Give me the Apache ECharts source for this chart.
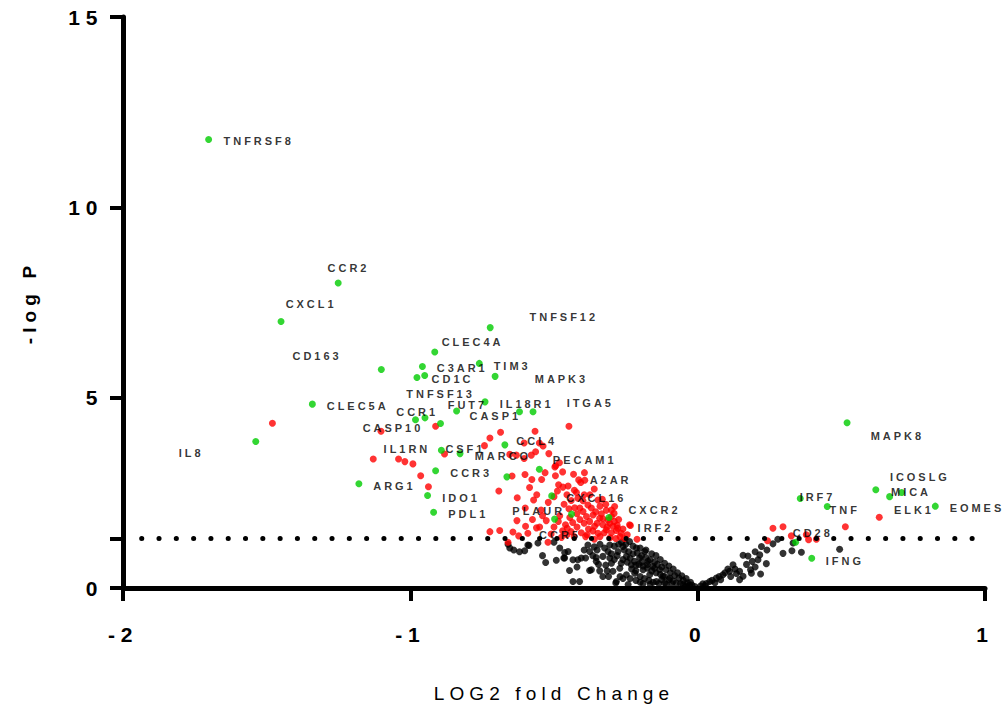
<!DOCTYPE html>
<html>
<head>
<meta charset="utf-8">
<script src="https://cdn.jsdelivr.net/npm/echarts@6/dist/echarts.min.js"></script>
<style>
  html, body { margin: 0; padding: 0; background: #fff; }
  #chart { width: 1003px; height: 708px; }
  #chart text { letter-spacing: 0.27em; }
</style>
</head>
<body>
<div id="chart"></div>
<script>
// volcano plot: x = log2 fold change, y = -log10 P
const cutoff = 1.3;
const yTickMarks = [0, 1.3, 5, 10, 15];
const yTickLabels = [0, 5, 10, 15];

// labelled / highlighted genes (green)
const greenPoints = [
  [-1.702, 11.78], [-1.251, 8.01], [-1.450, 7.00], [-1.101, 5.74], [-0.722, 6.84],
  [-0.915, 6.20], [-0.958, 5.82], [-0.977, 5.53], [-0.950, 5.58], [-0.760, 5.90],
  [-0.705, 5.56], [-0.740, 4.89], [-0.839, 4.65], [-0.620, 4.63], [-0.573, 4.63],
  [-1.341, 4.83], [-0.982, 4.42], [-0.949, 4.47], [-0.895, 4.32], [-1.538, 3.85],
  [-0.892, 3.62], [-0.827, 3.53], [-0.671, 3.76], [-0.912, 3.08], [-1.179, 2.74],
  [-0.940, 2.43], [-0.919, 1.99], [-0.664, 2.92], [-0.551, 3.12], [-0.508, 2.42],
  [-0.498, 1.81], [-0.439, 1.94], [-0.309, 1.85],
  [0.520, 4.34], [0.620, 2.58], [0.668, 2.40], [0.710, 2.51], [0.827, 2.15],
  [0.357, 2.35], [0.451, 2.14], [0.341, 1.20], [0.397, 0.78]
];

// significant, not labelled (red)
const redPoints = [
  [-1.480, 4.33], [-1.102, 4.12], [-0.912, 4.25], [-1.129, 3.39], [-1.041, 3.39],
  [-1.019, 3.32], [-0.991, 3.26], [-0.964, 2.95], [-0.937, 2.66], [-0.881, 3.52],
  [-0.448, 4.25], [-0.566, 4.12], [-0.686, 4.09], [-0.723, 3.94], [-0.742, 3.74],
  [-0.604, 3.81], [-0.551, 3.81], [-0.538, 3.73], [-0.654, 3.51], [-0.631, 3.49],
  [-0.604, 3.40], [-0.579, 3.49], [-0.518, 3.53], [-0.481, 3.29], [-0.497, 3.18],
  [-0.564, 3.58], [-0.494, 3.21], [-0.646, 2.94], [-0.601, 2.98], [-0.577, 2.85],
  [-0.543, 2.85], [-0.531, 3.03], [-0.432, 2.99], [-0.394, 3.03], [-0.414, 2.84],
  [-0.407, 2.77], [-0.393, 2.83], [-0.692, 2.55], [-0.628, 2.37], [-0.571, 2.31],
  [-0.585, 2.64], [-0.484, 2.71], [-0.469, 2.65], [-0.451, 2.68], [-0.429, 2.57],
  [-0.422, 2.51], [-0.488, 2.55], [-0.417, 2.36], [-0.399, 2.29], [-0.382, 2.18],
  [-0.347, 2.31], [-0.332, 2.33], [-0.289, 2.14], [-0.428, 2.11], [-0.448, 2.08],
  [-0.629, 1.77], [-0.599, 1.62], [-0.561, 1.58], [-0.527, 1.77], [-0.723, 1.48],
  [-0.689, 1.51], [-0.660, 1.20], [-0.623, 1.37], [-0.550, 1.60], [-0.591, 1.44],
  [-0.643, 1.47], [-0.460, 1.66], [-0.454, 1.57], [-0.234, 1.64], [-0.266, 1.44],
  [-0.283, 1.51], [-0.521, 1.20], [-0.474, 1.33], [-0.211, 1.28], [-0.291, 1.96],
  [-0.318, 2.04], [-0.364, 1.92], [-0.341, 1.83], [-0.376, 1.75], [-0.359, 1.62],
  [-0.330, 1.66], [-0.306, 1.70], [-0.318, 1.53], [-0.347, 1.44], [-0.387, 1.88],
  [-0.399, 2.01], [-0.300, 1.88], [-0.237, 1.66], [-0.278, 1.57],
  [-0.370, 2.10], [-0.355, 2.00], [-0.335, 1.95], [-0.312, 1.78], [-0.295, 1.62],
  [-0.325, 1.45], [-0.340, 1.35], [-0.360, 1.28], [-0.305, 1.32], [-0.285, 1.30],
  [-0.270, 1.35], [-0.255, 1.30], [-0.380, 1.55], [-0.395, 1.70], [-0.410, 1.80],
  [-0.420, 1.95], [-0.405, 1.45], [-0.390, 1.35], [-0.435, 1.72], [-0.440, 1.48],
  [-0.445, 1.85], [-0.470, 1.50], [-0.500, 1.60], [-0.510, 1.42], [-0.485, 1.75],
  [-0.465, 2.20], [-0.500, 2.40], [-0.520, 2.25], [-0.545, 2.05], [-0.560, 2.45],
  [-0.540, 1.90], [-0.575, 1.80], [-0.600, 2.10], [-0.495, 2.95], [-0.470, 3.05],
  [-0.455, 2.45], [-0.375, 2.45], [-0.360, 2.60], [-0.440, 2.30],
  [-0.350, 1.70], [-0.330, 1.82], [-0.315, 1.60], [-0.300, 1.45], [-0.290, 1.75],
  [-0.275, 1.80], [-0.260, 1.55], [-0.245, 1.40], [-0.320, 2.20], [-0.340, 2.15],
  [-0.365, 1.50], [-0.385, 1.40], [-0.420, 1.60], [-0.430, 1.35], [-0.455, 1.40],
  [-0.480, 1.90], [-0.395, 2.45], [-0.410, 2.10], [-0.300, 2.05], [-0.280, 1.65],
  [0.632, 1.86], [0.514, 1.61], [0.262, 1.57], [0.297, 1.61], [0.326, 1.37],
  [0.378, 1.40], [0.386, 1.27], [0.413, 1.28], [0.243, 1.24]
];

// not significant (black)
const blackPoints = [
  [-0.654, 1.05], [-0.602, 0.98], [-0.587, 1.12], [-0.556, 1.18], [-0.529, 0.67],
  [-0.492, 0.73], [-0.463, 0.93], [-0.451, 0.96], [-0.463, 0.79], [-0.446, 0.46],
  [-0.434, 0.17], [-0.411, 0.17], [-0.417, 0.74], [-0.405, 0.79], [-0.376, 0.46],
  [-0.382, 1.13], [-0.376, 0.96], [-0.341, 0.45], [-0.353, 0.70], [-0.330, 0.83],
  [-0.324, 1.05], [-0.312, 0.96], [-0.285, 0.13], [-0.295, 0.44], [-0.271, 0.52],
  [-0.115, 0.13], [-0.074, 0.13], [-0.466, 0.79], [-0.434, 0.74], [-0.370, 0.48],
  [-0.390, 0.79], [-0.353, 0.80], [-0.306, 0.79], [-0.283, 0.17], [-0.306, 1.13],
  [-0.277, 0.96], [-0.260, 1.09], [-0.248, 0.83], [-0.266, 0.65], [-0.231, 0.61],
  [-0.213, 1.05], [-0.202, 0.79], [-0.184, 0.96], [-0.173, 0.70], [-0.219, 0.39],
  [-0.248, 0.35], [-0.190, 0.48], [-0.156, 0.57], [-0.167, 0.35], [-0.132, 0.48],
  [-0.121, 0.31], [-0.097, 0.26], [-0.051, 0.09], [-0.028, 0.07], [-0.109, 0.10],
  [-0.144, 0.17], [-0.242, 0.09], [-0.237, 1.22], [-0.660, 1.15], [-0.591, 1.13],
  [-0.640, 1.00],
  [-0.290, 1.10], [-0.275, 1.15], [-0.255, 1.00], [-0.240, 0.95], [-0.225, 0.90],
  [-0.210, 0.92], [-0.195, 0.85], [-0.180, 0.80], [-0.165, 0.75], [-0.150, 0.68],
  [-0.140, 0.62], [-0.125, 0.55], [-0.110, 0.48], [-0.095, 0.40], [-0.080, 0.33],
  [-0.065, 0.26], [-0.050, 0.20], [-0.035, 0.14], [-0.020, 0.08], [-0.010, 0.04],
  [-0.220, 0.70], [-0.205, 0.62], [-0.190, 0.58], [-0.175, 0.52], [-0.160, 0.45],
  [-0.145, 0.40], [-0.130, 0.36], [-0.115, 0.30], [-0.100, 0.22], [-0.085, 0.18],
  [-0.060, 0.12], [-0.040, 0.05], [-0.260, 0.75], [-0.245, 0.68], [-0.230, 0.50],
  [-0.215, 0.45], [-0.200, 0.30], [-0.185, 0.25], [-0.170, 0.20], [-0.155, 0.15],
  [-0.135, 0.12], [-0.200, 0.15], [-0.260, 0.25], [-0.270, 0.30], [-0.310, 0.30],
  [-0.320, 0.60], [-0.300, 0.65], [-0.280, 0.85], [-0.350, 1.00], [-0.340, 1.15],
  [-0.360, 1.08], [-0.250, 1.15], [-0.225, 1.10], [-0.200, 1.05], [-0.180, 1.00],
  [-0.160, 0.90], [-0.145, 0.85], [-0.130, 0.75], [-0.115, 0.65], [-0.100, 0.58],
  [-0.085, 0.50], [-0.070, 0.40], [-0.055, 0.32], [-0.040, 0.25], [-0.025, 0.15],
  [-0.330, 0.30], [-0.315, 0.45], [-0.300, 0.90], [-0.290, 0.75], [-0.265, 1.20],
  [-0.345, 0.62], [-0.365, 0.85], [-0.395, 1.00], [-0.420, 0.55], [-0.235, 0.78],
  [-0.215, 0.60], [-0.195, 0.68], [-0.175, 0.62], [-0.150, 0.52], [-0.235, 0.25],
  [-0.215, 0.20], [-0.190, 0.12], [-0.165, 0.10], [-0.125, 0.22], [-0.090, 0.12],
  [-0.045, 0.02], [-0.500, 1.20], [-0.480, 1.05], [-0.540, 0.85], [-0.620, 0.95],
  [0.018, 0.11], [0.042, 0.17], [0.065, 0.26], [0.088, 0.35], [0.111, 0.44],
  [0.123, 0.61], [0.146, 0.44], [0.146, 0.22], [0.158, 0.31], [0.187, 0.39],
  [0.184, 0.48], [0.219, 0.37], [0.239, 0.64], [0.210, 0.74], [0.158, 0.86],
  [0.175, 0.84], [0.216, 0.87], [0.241, 1.00], [0.222, 1.09], [0.262, 1.16],
  [0.279, 1.28], [0.297, 0.91], [0.328, 0.98], [0.361, 0.94], [0.332, 1.18],
  [0.494, 1.02], [0.010, 0.05], [0.030, 0.12], [0.050, 0.20], [0.075, 0.30],
  [0.095, 0.40], [0.105, 0.50], [0.130, 0.50], [0.135, 0.38], [0.170, 0.62],
  [0.190, 0.70], [0.200, 0.55], [0.080, 0.22], [0.060, 0.14], [0.025, 0.06],
  [0.115, 0.30], [0.200, 0.95]
];

// gene names and where their text starts
const geneNames = [
  'TNFRSF8', 'CCR2', 'CXCL1', 'CD163', 'TNFSF12', 'CLEC4A', 'C3AR1', 'TIM3', 'CD1C',
  'MAPK3', 'TNFSF13', 'FUT7', 'IL18R1', 'ITGA5', 'CLEC5A', 'CCR1', 'CASP1', 'CASP10',
  'MAPK8', 'CCL4', 'IL8', 'IL1RN', 'CSF1', 'MARCO', 'PECAM1', 'CCR3', 'A2AR', 'ICOSLG',
  'ARG1', 'MICA', 'IDO1', 'CXCL16', 'IRF7', 'TNF', 'ELK1', 'EOMES', 'CXCR2', 'PDL1',
  'PLAUR', 'IRF2', 'CD28', 'CCR5', 'IFNG'
];
const geneLabelPos = [
  [-1.650, 11.75], [-1.288, 8.40], [-1.434, 7.46], [-1.410, 6.09], [-0.585, 7.13],
  [-0.891, 6.45], [-0.908, 5.77], [-0.710, 5.84], [-0.926, 5.48], [-0.567, 5.50],
  [-1.014, 5.10], [-0.870, 4.80], [-0.689, 4.84], [-0.456, 4.87], [-1.291, 4.78],
  [-1.049, 4.63], [-0.794, 4.53], [-1.166, 4.20], [0.602, 3.99], [-0.631, 3.86],
  [-1.806, 3.54], [-1.093, 3.66], [-0.878, 3.66], [-0.776, 3.46], [-0.504, 3.35],
  [-0.861, 3.03], [-0.376, 2.85], [0.669, 2.91], [-1.129, 2.67], [0.673, 2.51],
  [-0.889, 2.36], [-0.457, 2.36], [0.355, 2.40], [0.459, 2.04], [0.683, 2.05],
  [0.877, 2.09], [-0.241, 2.04], [-0.868, 1.94], [-0.645, 2.01], [-0.209, 1.58],
  [0.331, 1.44], [-0.552, 1.38], [0.446, 0.71]
];

const chart = echarts.init(document.getElementById('chart'), null, { renderer: 'svg' });
const fontFamily = '"Liberation Sans", Arial, sans-serif';

const option = {
  animation: false,
  grid: { left: 123, right: 18, top: 17, bottom: 118 },
  xAxis: {
    type: 'value',
    min: -2,
    max: 1,
    interval: 1,
    splitLine: { show: false },
    axisLine: { onZero: false, lineStyle: { color: '#000', width: 5 } },
    axisTick: { length: 13, lineStyle: { color: '#000', width: 4 } },
    axisLabel: { color: '#000', fontSize: 21, fontWeight: 'bold', margin: 36, fontFamily },
    name: 'LOG2 fold Change',
    nameLocation: 'middle',
    nameGap: 96,
    nameTextStyle: { color: '#000', fontSize: 19, fontFamily }
  },
  yAxis: {
    type: 'value',
    min: 0,
    max: 15,
    interval: 5,
    splitLine: { show: false },
    axisLine: { onZero: false, lineStyle: { color: '#000', width: 5 } },
    axisTick: { show: true, length: 13, customValues: yTickMarks, lineStyle: { color: '#000', width: 4 } },
    axisLabel: { color: '#000', fontSize: 21, fontWeight: 'bold', margin: 20, customValues: yTickLabels, fontFamily },
    name: '-log P',
    nameLocation: 'middle',
    nameGap: 84,
    nameTextStyle: { color: '#000', fontSize: 19, fontWeight: 'bold', fontFamily }
  },
  series: [
    {
      type: 'scatter',
      data: blackPoints,
      symbolSize: 7,
      itemStyle: { color: '#000' },
      silent: true,
      markLine: {
        silent: true,
        symbol: 'none',
        label: { show: false },
        lineStyle: { color: '#000', width: 5, type: [0.1, 17.2], cap: 'round' },
        data: [[{ coord: [-1.935, cutoff] }, { coord: [0.995, cutoff] }]]
      }
    },
    {
      type: 'scatter',
      data: redPoints,
      symbolSize: 7,
      itemStyle: { color: '#ff0000' },
      silent: true
    },
    {
      type: 'scatter',
      data: greenPoints,
      symbolSize: 7,
      itemStyle: { color: '#00cc00' },
      silent: true
    },
    {
      type: 'scatter',
      data: geneNames.map((n, i) => ({ name: n, value: geneLabelPos[i] })),
      symbolSize: 0,
      silent: true,
      z: 5,
      label: {
        show: true,
        position: 'inside',
        align: 'left',
        verticalAlign: 'middle',
        formatter: '{b}',
        color: '#000',
        fontSize: 11,
        fontWeight: 'bold',
        fontFamily
      }
    }
  ]
};

chart.setOption(option);
</script>
</body>
</html>
